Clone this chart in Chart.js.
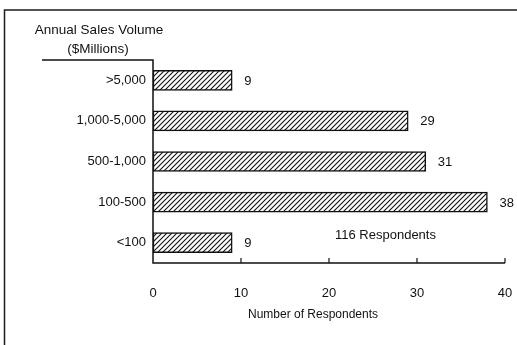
<!DOCTYPE html>
<html>
<head>
<meta charset="utf-8">
<script src="https://cdn.jsdelivr.net/npm/chart.js@4"></script>
<style>
  html, body { margin: 0; padding: 0; background: #fff; }
  canvas { display: block; }
</style>
</head>
<body>
<canvas id="c" width="517" height="345"></canvas>
<script>
// Sales-volume brackets (top to bottom) and respondent counts
const categories = ['>5,000', '1,000-5,000', '500-1,000', '100-500', '<100'];
const respondents = [9, 29, 31, 38, 9];
const xTickValues = [0, 10, 20, 30, 40];

const FONT = "'Liberation Sans', Arial, sans-serif";
const INK = '#111';

// Diagonal "/" hatch fill for the bars
function makeHatch() {
  const s = 5;
  const p = document.createElement('canvas');
  p.width = s; p.height = s;
  const g = p.getContext('2d');
  g.fillStyle = '#fff';
  g.fillRect(0, 0, s, s);
  g.strokeStyle = '#111';
  g.lineWidth = 1.1;
  g.beginPath();
  g.moveTo(-1, s + 1); g.lineTo(s + 1, -1);
  g.moveTo(-1, 1); g.lineTo(1, -1);
  g.moveTo(s - 1, s + 1); g.lineTo(s + 1, s - 1);
  g.stroke();
  return g.createPattern(p, 'repeat');
}

// Frame, axis lines, inward ticks, titles and value labels
const decorations = {
  id: 'decorations',
  afterDraw(chart) {
    const ctx = chart.ctx;
    const xs = chart.scales.x;
    const area = chart.chartArea;
    ctx.save();
    ctx.strokeStyle = '#1a1a1a';
    ctx.lineWidth = 1.5;

    // page frame (top and left edges)
    ctx.beginPath();
    ctx.moveTo(517, 10); ctx.lineTo(4.5, 10); ctx.lineTo(4.5, 345);
    ctx.stroke();

    // header rule + y axis + x axis
    ctx.strokeStyle = '#111';
    ctx.beginPath();
    ctx.moveTo(42, area.top); ctx.lineTo(area.left, area.top);
    ctx.lineTo(area.left, area.bottom); ctx.lineTo(area.right, area.bottom);
    ctx.stroke();

    // tick marks pointing up into the plot
    ctx.lineWidth = 1.2;
    ctx.beginPath();
    xTickValues.slice(1).forEach(v => {
      const px = xs.getPixelForValue(v);
      ctx.moveTo(px, area.bottom); ctx.lineTo(px, area.bottom - 5);
    });
    ctx.stroke();

    ctx.fillStyle = INK;
    ctx.textBaseline = 'middle';

    // y axis header
    ctx.font = '13.5px ' + FONT;
    ctx.textAlign = 'center';
    ctx.fillText('Annual Sales Volume', 99, 30);
    ctx.fillText('($Millions)', 98, 49);

    // x axis title
    ctx.font = '12px ' + FONT;
    ctx.fillText('Number of Respondents', 313, 315);

    // sample size note
    ctx.font = '13px ' + FONT;
    ctx.textAlign = 'left';
    ctx.fillText('116 Respondents', 335, 235);

    // value labels at the end of each bar
    const meta = chart.getDatasetMeta(0);
    meta.data.forEach((bar, i) => {
      ctx.fillText(String(respondents[i]), bar.x + 12, bar.y + 1);
    });
    ctx.restore();
  }
};

new Chart(document.getElementById('c'), {
  type: 'bar',
  data: {
    labels: categories,
    datasets: [{
      data: respondents,
      backgroundColor: makeHatch(),
      borderColor: '#111',
      borderWidth: 1.5,
      borderSkipped: false,
      barThickness: 20
    }]
  },
  options: {
    indexAxis: 'y',
    responsive: false,
    animation: false,
    layout: { padding: { top: 60, right: 12, left: 0, bottom: 0 } },
    plugins: { legend: { display: false }, tooltip: { enabled: false } },
    scales: {
      x: {
        min: 0,
        max: 40,
        afterBuildTicks: s => { s.ticks = xTickValues.map(v => ({ value: v })); },
        afterFit: s => { s.height = 82; s.paddingLeft = 0; s.paddingRight = 0; },
        grid: { display: false, drawTicks: false },
        border: { display: false },
        ticks: { color: INK, font: { family: FONT, size: 13 }, padding: 23, maxRotation: 0 }
      },
      y: {
        afterFit: s => { s.width = 153; s.paddingTop = 0; s.paddingBottom = 0; },
        grid: { display: false, drawTicks: false },
        border: { display: false },
        ticks: { color: INK, font: { family: FONT, size: 13 }, padding: 7 }
      }
    }
  },
  plugins: [decorations]
});
</script>
</body>
</html>
